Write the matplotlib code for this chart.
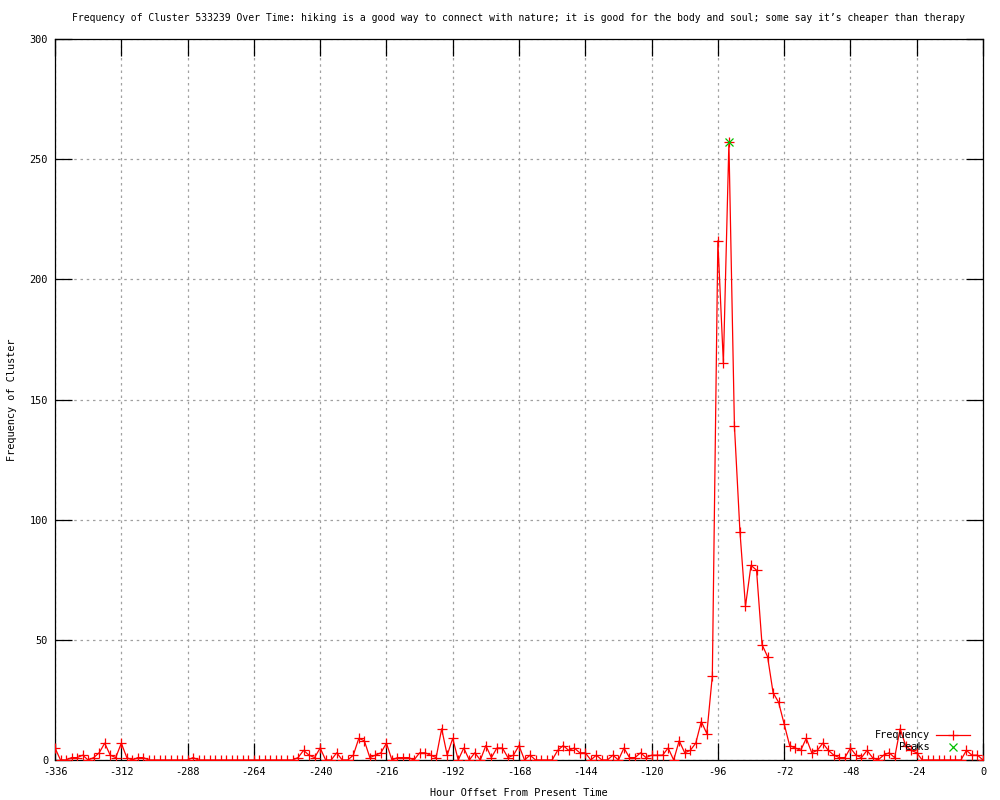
import matplotlib
matplotlib.use("Agg")
import matplotlib.pyplot as plt
from matplotlib.lines import Line2D

# ---- data (2-hour steps from -336 to 0) ----
hours = list(range(-336, 1, 2))
frequency = [
    5, 0, 0, 1, 1, 2, 0, 1, 3, 7, 2, 1,          # -336 .. -314
    7, 1, 0, 1, 1, 0, 0, 0, 0, 0, 0, 0,          # -312 .. -290
    0, 1, 0, 0, 0, 0, 0, 0, 0, 0, 0, 0,          # -288 .. -266
    0, 0, 0, 0, 0, 0, 0, 0, 1, 4, 2, 1,          # -264 .. -242
    5, 0, 0, 3, 0, 0, 2, 9, 8, 1, 2, 3,          # -240 .. -218
    7, 0, 1, 1, 1, 0, 3, 3, 2, 1, 13, 2,         # -216 .. -194
    9, 0, 5, 0, 3, 0, 6, 1, 5, 5, 1, 2,          # -192 .. -170
    6, 0, 2, 0, 0, 0, 0, 4, 6, 4, 5, 3,          # -168 .. -146
    3, 0, 2, 0, 0, 2, 0, 5, 1, 1, 3, 1,          # -144 .. -122
    2, 2, 2, 5, 0, 8, 3, 4, 7, 16, 11, 35,       # -120 .. -98
    216, 165, 257, 139, 95, 64, 81, 79, 48, 43, 28, 24,  # -96 .. -74
    15, 6, 5, 4, 9, 3, 4, 7, 4, 2, 1, 1,         # -72 .. -50
    5, 2, 1, 4, 1, 0, 2, 3, 1, 13, 6, 4,         # -48 .. -26
    3, 0, 0, 0, 0, 0, 0, 0, 0, 4, 2, 2,          # -24 .. -2
    0,                                           # 0
]
peak_hours = [-92]
peak_values = [257]

x_ticks = list(range(-336, 1, 24))
y_ticks = [0, 50, 100, 150, 200, 250, 300]

title = ("Frequency of Cluster 533239 Over Time: hiking is a good way to connect "
         "with nature; it is good for the body and soul; some say it\u2019s cheaper than therapy")

FONT = "DejaVu Sans Mono"
FS = 7.4
TFS = 7.05

fig = plt.figure(figsize=(10, 8), dpi=100)
ax = fig.add_axes([0.055, 0.05, 0.928, 0.90125])

ax.plot(hours, frequency, color="#ff0000", linewidth=0.9, marker="+",
        markersize=7, markeredgewidth=0.9, zorder=3, label="Frequency")
ax.plot(peak_hours, peak_values, linestyle="none", color="#00c000", marker="x",
        markersize=5.5, markeredgewidth=0.9, zorder=4, label="Peaks")

ax.set_xlim(-336, 0)
ax.set_ylim(0, 300)
ax.set_xticks(x_ticks)
ax.set_yticks(y_ticks)
ax.set_xticklabels([str(t) for t in x_ticks], fontfamily=FONT, fontsize=FS)
ax.set_yticklabels([str(t) for t in y_ticks], fontfamily=FONT, fontsize=FS)
ax.tick_params(direction="in", length=12, width=0.9, top=True, right=True,
               labeltop=False, labelright=False, pad=5, color="black")
ax.grid(True, color="#a0a0a0", linestyle=(0, (2, 3)), linewidth=0.9)
ax.set_axisbelow(True)
for sp in ax.spines.values():
    sp.set_linewidth(0.9)
    sp.set_color("black")

ax.set_title(title, fontfamily=FONT, fontsize=TFS, pad=13)
ax.set_xlabel("Hour Offset From Present Time", fontfamily=FONT, fontsize=FS, labelpad=8)
ax.set_ylabel("Frequency of Cluster", fontfamily=FONT, fontsize=FS)
ax.yaxis.set_label_coords(-0.041, 0.5)

handles = [
    Line2D([], [], color="#ff0000", linewidth=0.9, marker="+", markersize=7, markeredgewidth=0.9),
    Line2D([], [], color="#00c000", linestyle="none", marker="x", markersize=5.5, markeredgewidth=0.9),
]
leg = ax.legend(handles, ["Frequency", "Peaks"], loc="lower right",
                bbox_to_anchor=(0.99, 0.005), frameon=False, markerfirst=False,
                prop={"family": FONT, "size": FS}, handlelength=3.3,
                handletextpad=0.6, labelspacing=0.2, borderaxespad=0.0)

fig.savefig("out.png", dpi=100)
